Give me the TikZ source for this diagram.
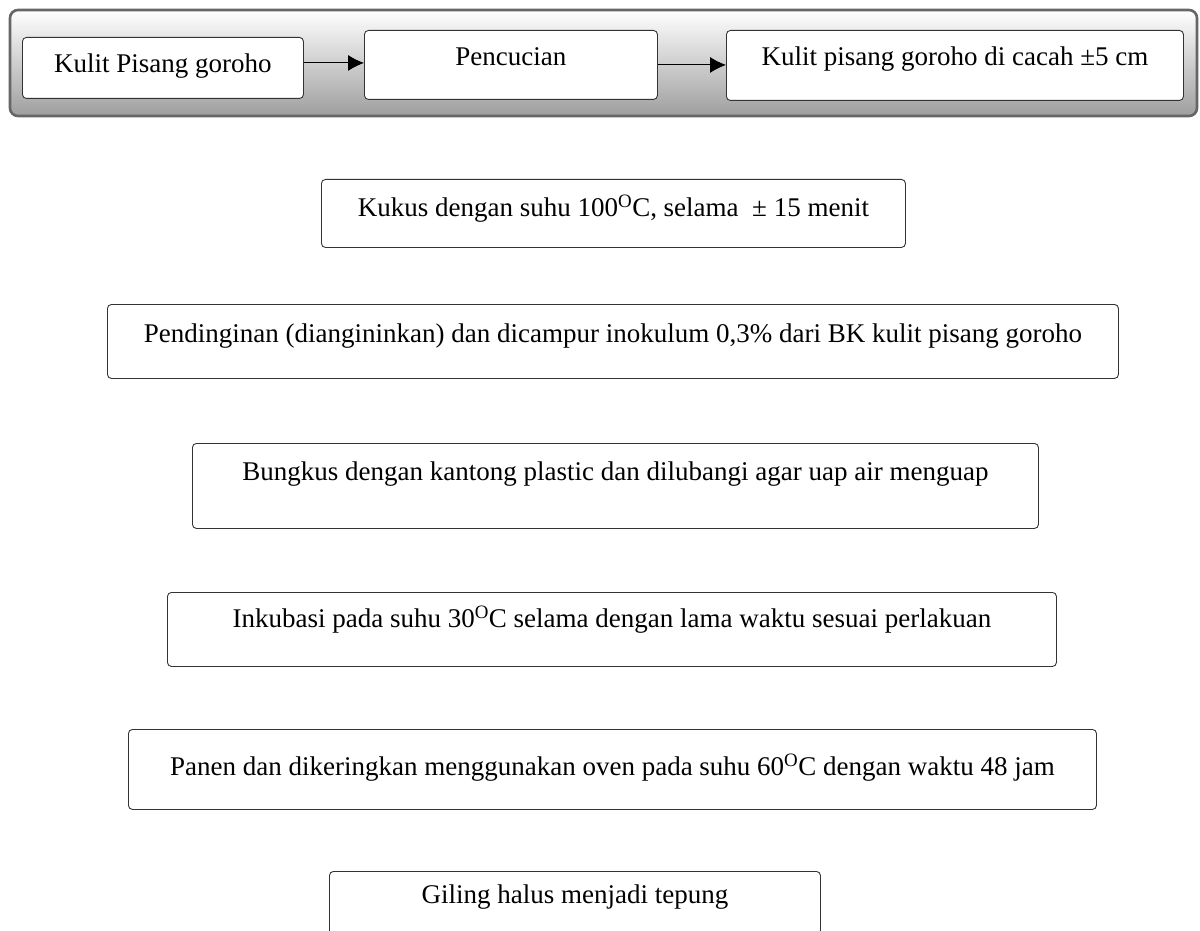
\documentclass[tikz,border=0pt]{standalone}
\usepackage{fontspec}
\setmainfont{Liberation Serif}
\usepackage{tikz}
\usetikzlibrary{shapes.geometric, arrows.meta, positioning}

\tikzset{
    stepbox/.style={draw=black!80, line width=0.9pt, rounded corners=4pt, fill=white,
        inner sep=0pt, anchor=north west, font=\fontsize{27}{32}\selectfont},
    flowarrow/.style={-{Latex[length=16pt,width=16pt]}, line width=0.9pt},
    panel/.style={draw=black!60, line width=2.6pt, rounded corners=8pt,
        top color=white, bottom color=black!38}
}

\begin{document}
\begin{tikzpicture}[x=1pt, y=-1pt]
    \clip (0,0) rectangle (1200,931);
    \fill[white] (0,0) rectangle (1200,931);

    % Top panel
    \draw[panel] (10,10) rectangle (1197,116);

    % First row
    \node[stepbox, minimum width=281pt, text height=35pt, text depth=26pt] (kulit) at (22,37) {Kulit Pisang goroho};
    \node[stepbox, minimum width=293pt, text height=35pt, text depth=34pt] (cuci) at (364,30) {Pencucian};
    \node[stepbox, minimum width=457pt, text height=35pt, text depth=35pt] (cacah) at (726,30) {Kulit pisang goroho di cacah ±5 cm};

    % Arrows
    \draw[flowarrow] ([yshift=5pt]kulit.east) -- ([yshift=5pt]kulit.east -| cuci.west);
    \draw[flowarrow] (cuci.east) -- (cuci.east -| cacah.west);

    % Steps
    \node[stepbox, minimum width=584pt, text height=37pt, text depth=31pt] (kukus) at (321,179) {Kukus dengan suhu 100\textsuperscript{O}C, selama \ ± 15 menit};
    \node[stepbox, minimum width=1011pt, text height=38pt, text depth=36pt] (dingin) at (107,304) {Pendinginan (diangininkan) dan dicampur inokulum 0,3\% dari BK kulit pisang goroho};
    \node[stepbox, minimum width=846pt, text height=37pt, text depth=48pt] (bungkus) at (192,443) {Bungkus dengan kantong plastic dan dilubangi agar uap air menguap};
    \node[stepbox, minimum width=889pt, text height=35pt, text depth=39pt] (inkubasi) at (167,592) {Inkubasi pada suhu 30\textsuperscript{O}C selama dengan lama waktu sesuai perlakuan};
    \node[stepbox, minimum width=968pt, text height=46pt, text depth=34pt] (panen) at (128,729) {Panen dan dikeringkan menggunakan oven pada suhu 60\textsuperscript{O}C dengan waktu 48 jam};
    \node[stepbox, minimum width=491pt, text height=32pt, text depth=50pt] (giling) at (329,871) {Giling halus menjadi tepung};
\end{tikzpicture}
\end{document}
